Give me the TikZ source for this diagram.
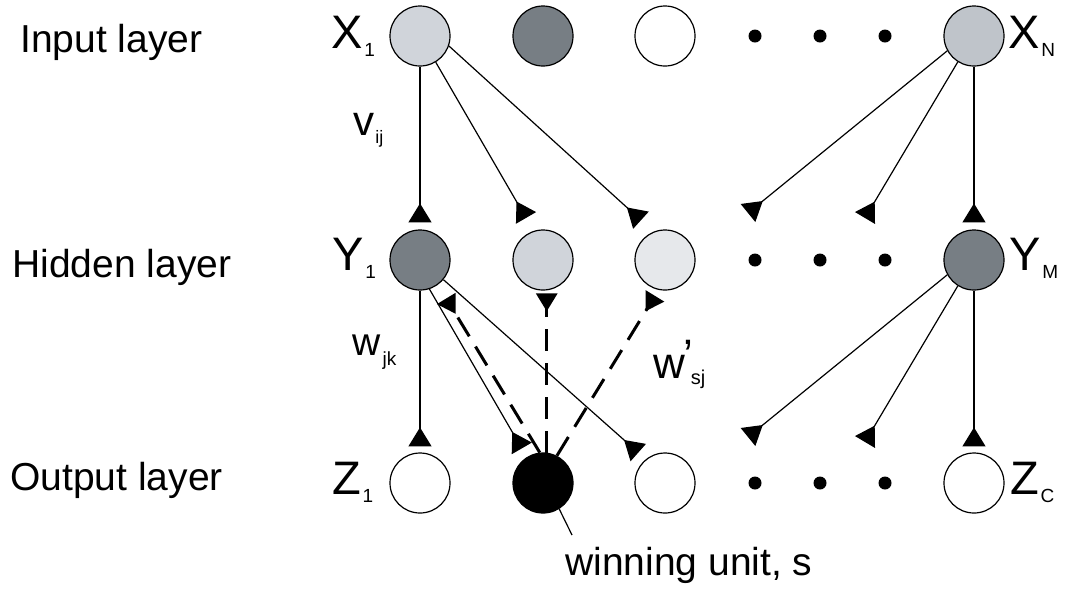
\documentclass[tikz,border=0pt]{standalone}
\usepackage{fontspec}
\setmainfont{Liberation Sans}
\usetikzlibrary{arrows.meta}

\definecolor{paleunit}{HTML}{D0D4DA}
\definecolor{midunit}{HTML}{BFC4CA}
\definecolor{faintunit}{HTML}{E6E8EB}
\definecolor{darkunit}{HTML}{777E84}

% unit label with a lowered index
\newcommand\unitlab[2]{#1\kern0.8pt\raisebox{-4pt}{\fontsize{9.5}{9.5}\selectfont #2}}

\begin{document}
\begin{tikzpicture}[x=0.5pt,y=-0.5pt,
  unit/.style={circle,draw=black,line width=0.6pt,minimum size=30pt,inner sep=0pt},
  dotmark/.style={circle,fill=black,minimum size=6.5pt,inner sep=0pt},
  link/.style={line width=0.6pt,-{Triangle[reversed,length=9.5pt,width=11.5pt]}},
  feedback/.style={line width=1.5pt,dash pattern=on 11pt off 6pt,
    -{Triangle[reversed,length=9pt,width=10.5pt]}},
  lbl/.style={font=\fontsize{19.5}{23}\selectfont,anchor=base west,inner sep=0pt},
  ulbl/.style={font=\fontsize{23.5}{27}\selectfont,anchor=base west,inner sep=0pt},
  wlbl/.style={anchor=base west,inner sep=0pt},
]
\useasboundingbox (0,0) rectangle (1077,591);

% layer names
\node[lbl] (inl) at (20,52) {Input layer};
\node[lbl] (hidl) at (12,277) {Hidden layer};
\node[lbl] (outl) at (10,490) {Output layer};

% input layer
\node[unit,fill=paleunit] (X1) at (420,36) {};
\node[unit,fill=darkunit] (X2) at (543,36) {};
\node[unit,fill=white] (X3) at (665,36) {};
\node[unit,fill=midunit] (XN) at (974,36) {};

% hidden layer
\node[unit,fill=darkunit] (Y1) at (420,260) {};
\node[unit,fill=paleunit] (H2) at (543,260) {};
\node[unit,fill=faintunit] (H3) at (665,260) {};
\node[unit,fill=darkunit] (YM) at (974,260) {};

% output layer
\node[unit,fill=white] (Z1) at (420,483) {};
\node[unit,fill=black] (S) at (543,483) {};
\node[unit,fill=white] (Z3) at (665,483) {};
\node[unit,fill=white] (ZC) at (974,483) {};

% ellipsis dots
\foreach \r/\y in {a/36,b/260,c/483}{
  \node[dotmark] (dot\r1) at (755,\y) {};
  \node[dotmark] (dot\r2) at (820,\y) {};
  \node[dotmark] (dot\r3) at (885,\y) {};
}

% unit labels
\node[ulbl] (lx1) at (331,48) {\unitlab{X}{1}};
\node[ulbl] (lxn) at (1008,48) {\unitlab{X}{N}};
\node[ulbl] (ly1) at (332,270) {\unitlab{Y}{1}};
\node[ulbl] (lym) at (1009,270) {\unitlab{Y}{M}};
\node[ulbl] (lz1) at (332,494) {\unitlab{Z}{1}};
\node[ulbl] (lzc) at (1010,494) {\unitlab{Z}{C}};

% free ends of the fan-out links
\coordinate (d1) at (748,213);
\coordinate (d2) at (865,218);
\coordinate (d3) at (748,437);
\coordinate (d4) at (865,442);

% input -> hidden
\draw[link,shorten >=3.5pt] (X1) -- (Y1);
\draw[link,shorten >=7.5pt] (X1.-59) -- (H2.108);
\draw[link,shorten >=8.5pt] (X1.-19) -- (H3.112);
\draw[link] (XN.-151) -- (d1);
\draw[link] (XN.-122) -- (d2);
\draw[link,shorten >=3.5pt] (XN) -- (YM);

% hidden -> output
\draw[link,shorten >=3pt] (Y1) -- (Z1);
\draw[link,shorten >=5pt] (Y1.-72) -- (S.122);
\draw[link,shorten >=5pt] (Y1.-40) -- (Z3.129);
\draw[link] (YM.-151) -- (d3);
\draw[link] (YM.-122) -- (d4);
\draw[link,shorten >=3pt] (YM) -- (ZC);

% winning unit -> hidden
\draw[feedback,shorten >=8pt] (S.96) -- (Y1.-54);
\draw[feedback,shorten >=1.5pt] (S.83) -- (H2.-83);
\draw[feedback,shorten >=3.5pt] (S.63) -- (H3.-102);

% weight labels
\node[wlbl] (lv) at (353,135) {\fontsize{21}{24}\selectfont v\kern0.5pt\raisebox{-4pt}{\fontsize{9}{9}\selectfont ij}};
\node[wlbl] (lw) at (352,355) {\fontsize{19.5}{23}\selectfont w\kern1pt\raisebox{-5pt}{\fontsize{9.5}{9.5}\selectfont jk}};
\node[wlbl] (lws) at (653,378) {\fontsize{22}{25}\selectfont w\kern-1pt\raisebox{4pt}{’}\kern-1pt\raisebox{-3pt}{\fontsize{10}{10}\selectfont sj}};

% winning unit pointer
\coordinate (ptr) at (572,535);
\draw[line width=0.6pt] (S.-58) -- (ptr);
\node[lbl] (win) at (565,575) {winning unit, s};
\end{tikzpicture}
\end{document}
